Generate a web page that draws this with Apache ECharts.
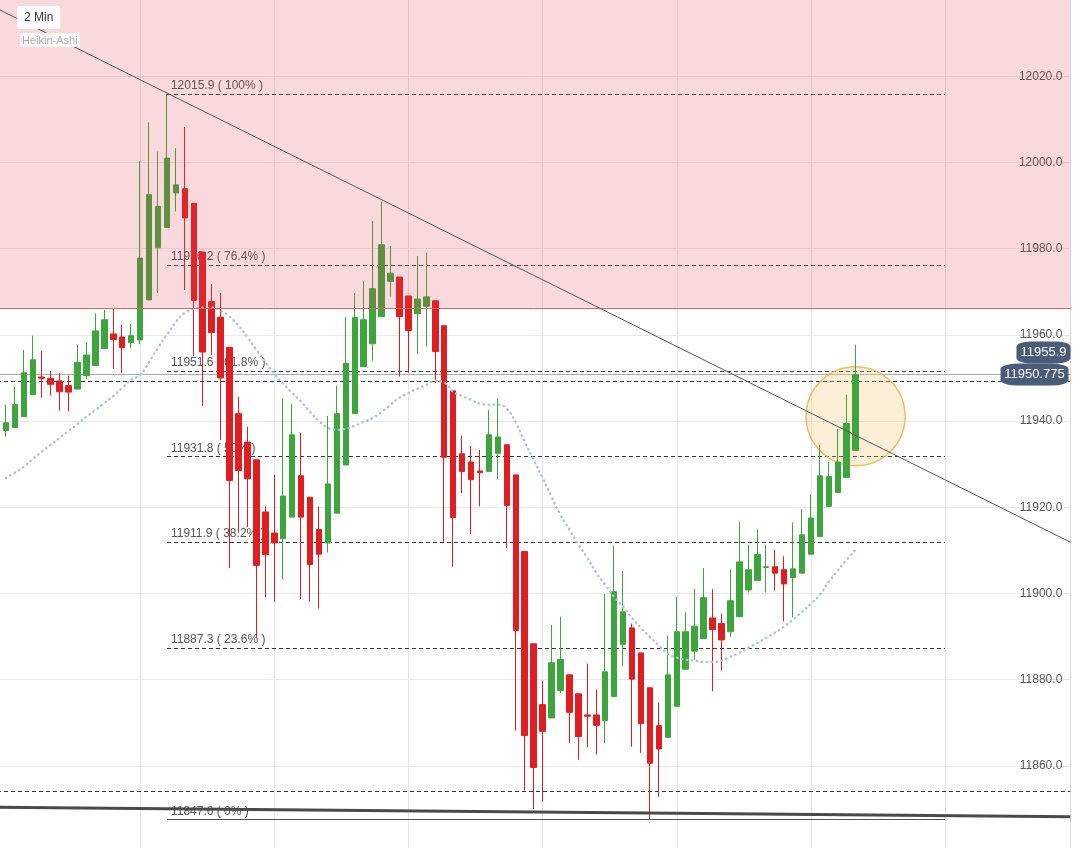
<!DOCTYPE html>
<html><head><meta charset="utf-8">
<script src="https://cdn.jsdelivr.net/npm/echarts@6/dist/echarts.min.js"></script>
<style>html,body{margin:0;padding:0;background:#fff;overflow:hidden;width:1074px;height:848px}
#c{position:absolute;left:-3px;top:-10px;width:1080px;height:862px}</style>
</head><body><div id="c"></div>
<script>
// ---- data (Heikin-Ashi 2 Min candles) ----
const candleOpen = [11937.8,11938.5,11941.0,11946.1,11950.2,11949.9,11949.3,11948.2,11947.4,11950.5,
11952.9,11956.8,11960.2,11959.5,11958.2,11958.8,11968.1,11980.2,11984.9,11992.9,
11993.9,11990.5,11979.2,11967.7,11964.1,11957.1,11941.7,11935.1,11931.0,11918.9,
11914.0,11912.7,11917.7,11927.3,11922.3,11914.8,11911.7,11918.6,11929.8,11941.7,
11952.6,11957.9,11964.2,11972.4,11973.4,11969.0,11964.9,11966.6,11967.9,11962.1,
11947.0,11932.4,11930.5,11928.4,11928.3,11932.5,11934.5,11927.5,11909.7,11888.3,
11874.2,11871.1,11877.5,11881.1,11876.7,11871.8,11871.8,11870.5,11876.1,11888.2,
11892.0,11886.2,11878.1,11869.3,11866.6,11873.8,11882.4,11886.6,11889.5,11894.3,
11893.0,11891.1,11894.6,11900.8,11903.0,11906.0,11906.2,11905.5,11903.7,11904.7,
11909.1,11913.2,11920.2,11923.4,11926.9,11933.2];
const candleClose = [11939.6,11943.8,11951.2,11954.2,11949.9,11948.5,11946.8,11946.7,11953.6,11955.3,
11960.9,11963.5,11958.9,11957.0,11959.8,11977.8,11992.5,11989.8,12001.0,11994.8,
11987.1,11968.0,11956.0,11960.5,11950.0,11926.2,11928.5,11926.6,11906.5,11909.0,
11911.7,11922.6,11936.8,11917.7,11906.7,11909.1,11925.4,11941.7,11953.4,11964.0,
11963.5,11970.7,11980.9,11974.3,11964.2,11961.0,11968.3,11968.8,11956.1,11931.6,
11917.6,11928.3,11926.4,11928.0,11936.8,11936.3,11920.4,11891.4,11867.0,11859.6,
11868.0,11883.9,11884.7,11872.4,11866.8,11871.5,11869.4,11881.8,11900.4,11895.7,
11880.1,11869.8,11860.6,11863.9,11881.1,11891.1,11891.1,11892.4,11899.0,11891.6,
11889.2,11898.3,11907.3,11905.5,11909.0,11906.2,11904.7,11902.2,11905.7,11913.6,
11917.5,11927.3,11927.1,11930.5,11939.4,11950.775];
const candleLow = [11936.4,11938.5,11941.0,11946.1,11945.4,11945.9,11942.4,11942.2,11947.4,11949.7,
11952.9,11956.8,11952.1,11951.2,11956.9,11957.8,11968.1,11969.7,11984.9,11988.6,
11970.4,11955.0,11943.5,11955.3,11935.6,11905.9,11914.1,11915.4,11889.6,11899.1,
11898.1,11903.3,11917.7,11898.7,11898.1,11896.5,11909.5,11918.6,11929.8,11941.7,
11952.6,11954.0,11964.2,11968.9,11950.3,11951.2,11955.5,11957.3,11948.8,11912.0,
11906.2,11923.3,11913.8,11920.2,11928.3,11926.5,11910.5,11868.2,11854.3,11850.0,
11851.7,11871.1,11876.9,11865.3,11861.4,11864.3,11862.6,11865.3,11876.1,11883.1,
11864.4,11863.0,11847.6,11852.8,11866.6,11873.8,11882.4,11884.6,11889.5,11877.3,
11882.1,11889.9,11894.6,11900.2,11903.0,11900.2,11900.7,11893.5,11894.4,11904.7,
11909.1,11913.2,11920.2,11923.4,11926.9,11933.2];
const candleHigh = [11943.8,11947.9,11956.5,11959.8,11956.3,11951.6,11951.1,11950.5,11957.6,11958.3,
11965.0,11965.8,11966.0,11962.3,11962.5,12000.4,12009.3,12002.5,12015.9,12003.3,
12008.2,11990.5,11979.2,11971.8,11969.7,11957.1,11945.6,11938.7,11931.0,11920.2,
11927.5,11945.2,11944.0,11937.2,11922.3,11920.2,11941.2,11948.2,11964.2,11969.7,
11972.4,11986.4,11990.9,11980.6,11973.4,11969.0,11978.3,11979.1,11967.9,11962.1,
11947.0,11936.6,11934.2,11933.3,11942.6,11945.2,11934.5,11927.5,11909.7,11888.3,
11879.7,11892.7,11894.6,11881.1,11876.7,11883.7,11877.6,11899.9,11911.0,11905.2,
11893.0,11886.2,11878.1,11874.7,11890.2,11899.2,11895.7,11901.1,11905.9,11901.0,
11895.3,11905.5,11916.6,11911.3,11914.8,11911.3,11910.1,11908.6,11916.5,11919.6,
11923.0,11934.5,11930.5,11938.2,11946.1,11957.7];
const maValues = [11926.8,11928.0,11929.4,11931.2,11932.9,11934.5,11936.1,11937.7,11939.3,11941.0,
11942.6,11944.2,11945.8,11947.7,11949.6,11950.7,11953.7,11957.0,11960.0,11963.0,
11965.1,11966.0,11966.3,11966.3,11965.6,11964.2,11962.1,11959.5,11956.5,11953.7,
11950.9,11948.6,11946.5,11944.5,11942.1,11940.0,11938.4,11938.0,11938.2,11938.9,
11939.8,11940.7,11942.1,11943.8,11945.4,11946.5,11947.5,11948.4,11949.3,11948.9,
11946.8,11945.8,11944.9,11944.0,11943.8,11943.8,11942.8,11939.6,11935.2,11931.0,
11926.8,11922.4,11918.2,11914.8,11911.3,11908.3,11904.8,11902.0,11899.2,11896.9,
11894.3,11892.0,11889.9,11887.9,11886.0,11885.1,11884.6,11884.4,11884.1,11884.1,
11884.4,11885.3,11886.2,11887.4,11888.5,11889.7,11890.9,11892.3,11893.9,11895.7,
11897.6,11899.7,11902.7,11905.3,11907.8,11910.1];
const fibLevels = [12015.9, 11976.2, 11951.6, 11931.8, 11911.9, 11887.3, 11847.6];
const fibPercents = ['100%', '76.4%', '61.8%', '50%', '38.2%', '23.6%', '0%'];
const yMin = 11840, yMax = 12040, yStep = 20;
const zoneLevel = 11966.25;
const lastPrice = 11950.775;
const markPrice = 11955.9;
const refDashLevels = [11949.2, 11854.2];
const trendDown = [12035.7, 11911.9];
const trendBase = [11850.4, 11848.2];
const circleLevel = 11941.1;
const slotCount = 121;           // category slots (slot 0 empty, candles from slot 1)
const fibFromSlot = 19, fibToSlot = 106;

const categories = [];
for (let i = 0; i < slotCount; i++) {
  const m = 8 * 60 + i * 2;
  categories.push(String(Math.floor(m / 60)).padStart(2, '0') + ':' + String(m % 60).padStart(2, '0'));
}
const candleData = candleOpen.map((o, k) => [k + 1, o, candleClose[k], candleLow[k], candleHigh[k]]);
const maData = maValues.map((v, k) => [k + 1, v]);
const lastSlot = slotCount - 1;
const FONT = 'Arial, Liberation Sans, sans-serif';

const fibLines = fibLevels.map((v, i) => [
  { coord: [fibFromSlot, v],
    lineStyle: { type: i === fibLevels.length - 1 ? 'solid' : [4, 3], color: i === fibLevels.length - 1 ? '#555' : '#333', width: 1 },
    label: { show: true, position: 'insideStartTop', distance: [4, 2], formatter: v.toFixed(1) + ' ( ' + fibPercents[i] + ' )',
             color: '#555', fontSize: 12, fontFamily: FONT } },
  { coord: [fibToSlot, v] }
]);

const chart = echarts.init(document.getElementById('c'), null, { renderer: 'canvas' });
chart.setOption({
  animation: false,
  backgroundColor: '#fff',
  grid: { left: 0, right: 6.7, top: 0, bottom: 0 },
  xAxis: {
    type: 'category', data: categories, boundaryGap: false,
    axisLine: { show: false }, axisTick: { show: false }, axisLabel: { show: false },
    splitLine: { show: true, interval: (idx) => idx > 1 && (idx - 1) % 15 === 0, lineStyle: { color: '#e6e6e6', width: 1 } }
  },
  yAxis: {
    type: 'value', position: 'right', min: yMin, max: yMax, interval: yStep,
    axisLine: { show: true, lineStyle: { color: '#dadada' } }, axisTick: { show: false },
    axisLabel: { inside: true, margin: 8, color: '#555', fontSize: 12, fontFamily: FONT,
                 formatter: (v) => v.toFixed(1), showMinLabel: false, showMaxLabel: false },
    splitLine: { show: true, lineStyle: { color: '#e9e9e9', width: 1 } }
  },
  graphic: [
    { type: 'text', left: 20, top: 16, z: 100,
      style: { text: '2 Min', fill: '#333', font: '12px ' + FONT, backgroundColor: '#fff', padding: [6, 7, 5, 7], borderRadius: 3 } },
    { type: 'text', left: 23, top: 43, z: 100,
      style: { text: 'Heikin-Ashi', fill: '#a8adb6', font: '11px ' + FONT, backgroundColor: 'rgba(255,255,255,0.9)', padding: [2, 2, 1, 2] } }
  ],
  series: [
    {
      type: 'candlestick', name: 'HA', z: 2,
      data: candleData, encode: { x: 0, y: [1, 2, 3, 4] },
      barWidth: 6,
      itemStyle: { color: '#3ea43e', color0: '#e01e22', borderColor: '#3ea43e', borderColor0: '#e01e22', borderWidth: 1 },
      markLine: {
        z: 1, silent: true, symbol: ['none', 'none'], animation: false,
        label: { show: false },
        data: fibLines.concat([
          { yAxis: lastPrice, lineStyle: { type: 'solid', color: '#a3acb9', width: 1 }, label: { show: false } },
          { yAxis: refDashLevels[0], lineStyle: { type: [4, 3], color: '#333', width: 1 }, label: { show: false } },
          { yAxis: refDashLevels[1], lineStyle: { type: [4, 3], color: '#333', width: 1 }, label: { show: false } }
        ])
      },
      markPoint: {
        z: 1, silent: true, animation: false,
        data: [{ coord: [candleOpen.length, circleLevel], symbol: 'circle', symbolSize: 99,
                 itemStyle: { color: 'rgba(248,200,120,0.30)', borderColor: 'rgba(238,180,90,0.9)', borderWidth: 1.5 },
                 label: { show: false } }]
      }
    },
    {
      type: 'line', name: 'MA', z: 3,
      data: maData, showSymbol: false, symbol: 'none', smooth: true,
      lineStyle: { color: '#a9c3de', width: 2.4, type: [0.5, 4.5], cap: 'round' },
      markArea: {
        z: 3, silent: true,
        itemStyle: { color: 'rgba(225,65,80,0.2)' },
        data: [[{ yAxis: zoneLevel }, { yAxis: yMax }]]
      },
      markLine: {
        z: 4, silent: true, symbol: ['none', 'none'], animation: false,
        label: { show: false },
        data: [
          { yAxis: zoneLevel, lineStyle: { type: 'solid', color: '#e06464', width: 1 } },
          [{ coord: [0, trendDown[0]], lineStyle: { type: 'solid', color: '#555', width: 1 } }, { coord: [lastSlot, trendDown[1]] }],
          [{ coord: [0, trendBase[0]], lineStyle: { type: 'solid', color: '#4a4a4a', width: 3 } }, { coord: [lastSlot, trendBase[1]] }]
        ]
      },
      markPoint: {
        z: 6, silent: true, animation: false,
        data: [
          { coord: [116, lastPrice], symbol: 'roundRect', symbolSize: [68, 22],
            itemStyle: { color: '#4b5c7b' },
            label: { show: true, formatter: lastPrice.toFixed(3), color: '#fff', fontSize: 13, fontFamily: FONT } },
          { coord: [117, markPrice], symbol: 'roundRect', symbolSize: [54, 22],
            itemStyle: { color: '#4b5c7b' },
            label: { show: true, formatter: markPrice.toFixed(1), color: '#fff', fontSize: 13, fontFamily: FONT } }
        ]
      }
    }
  ]
});
</script>
</body></html>
